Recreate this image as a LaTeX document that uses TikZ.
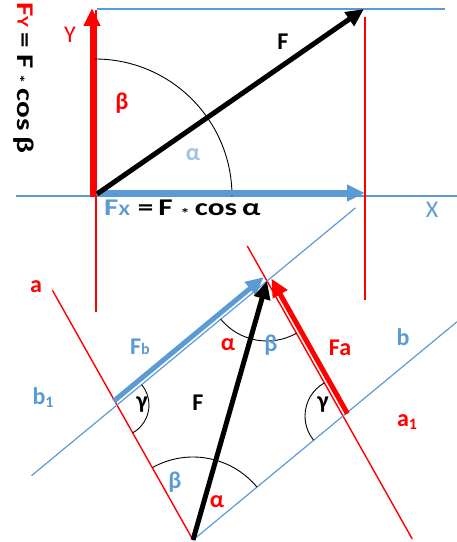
\documentclass[tikz,border=0pt]{standalone}
\usepackage{fontspec}
\setmainfont{Carlito}
\usepackage{graphicx}
\usepackage{tikz}
\usetikzlibrary{arrows.meta,calc}
\definecolor{compblue}{HTML}{5B9BD5}
\definecolor{anglblue}{HTML}{9DC3E6}
\definecolor{compred}{HTML}{FF0000}
\newcommand\mult{\raisebox{-3pt}{\fontsize{14}{14}\selectfont *}}
\newcommand\sm[1]{{\fontsize{16}{16}\selectfont #1}}
\newcommand\wide[1]{\scalebox{1.3}[1]{#1}}

\begin{document}
\begin{tikzpicture}[x=1pt, y=1pt, >={Triangle[length=18pt,width=16pt]},
  axisline/.style={compblue, line width=1.2pt},
  projline/.style={compred, line width=1.4pt},
  force/.style={->, line width=5pt},
  anglearc/.style={black, line width=0.9pt},
  lbl/.style={font=\fontsize{24}{24}\selectfont\bfseries, inner sep=0pt},
  axislbl/.style={font=\fontsize{24}{24}\selectfont, inner sep=0pt}]
  \useasboundingbox (0,0) rectangle (457,542);

  % components in x/y
  \coordinate (O) at (95,346);
  \coordinate (Xstart) at (16,346);
  \coordinate (Xend) at (457,346);
  \coordinate (topL) at (97,533);
  \coordinate (topR) at (445,533);
  \coordinate (projYtop) at (96,532);
  \coordinate (projYbot) at (96,230);
  \coordinate (projXtop) at (365,525);
  \coordinate (projXbot) at (365,242);
  \coordinate (FyS) at (92,345);
  \coordinate (FyE) at (92,534);
  \coordinate (FxS) at (96,349);
  \coordinate (FxE) at (365,349);
  \coordinate (FS) at (97,348);
  \coordinate (FE) at (364,533);

  \draw[axisline] (Xstart) -- (Xend);
  \draw[axisline] (topL) -- (topR);
  \draw[projline] (projYtop) -- (projYbot);
  \draw[projline] (projXtop) -- (projXbot);
  \draw[anglearc] (O) ++(137,0) arc[start angle=0, end angle=90, radius=137];
  \draw[force, compred] (FyS) -- (FyE);
  \draw[force, compblue] (FxS) -- (FxE);
  \draw[force, black] (FS) -- (FE);

  \node[axislbl, compred] (ylbl) at (70,507) {Y};
  \node[axislbl, compblue] (xlbl) at (432,332) {X};
  \node[lbl, compred] (betatop) at (122,439) {β};
  \node[lbl, anglblue] (alphatop) at (193,387) {α};
  \node[lbl] (Ftop) at (283,500) {F};
  \node[lbl, anchor=west] (fxlbl) at (104,333)
    {\wide{\textcolor{compblue}{F\sm{X}}\hspace{6pt}=\hspace{4pt}F\hspace{6pt}\mult\hspace{4pt}cos\hspace{4pt}α}};
  \node[lbl, anchor=west, rotate=-90] (fylbl) at (24,540)
    {\wide{\textcolor{compred}{F\sm{Y}}\hspace{4pt}=\hspace{5pt}F\hspace{4pt}\mult\hspace{4pt}cos\hspace{5pt}β}};

  % parallelogram of forces
  \coordinate (P) at (193,2);
  \coordinate (L) at (117,137);
  \coordinate (R) at (343,126);
  \coordinate (Q) at ($(L)+(R)-(P)$);
  \coordinate (aTop) at ($(P)!1.85!(L)$);
  \coordinate (aoneTop) at ($(R)!1.26!(Q)$);
  \coordinate (aoneBot) at ($(Q)!1.91!(R)$);
  \coordinate (boneBot) at ($(Q)!1.57!(L)$);
  \coordinate (boneTop) at ($(L)!1.59!(Q)$);
  \coordinate (bTop) at ($(P)!1.76!(R)$);

  \draw[projline] (aTop) -- (P);
  \draw[projline] (aoneTop) -- (aoneBot);
  \draw[axisline] (boneBot) -- (boneTop);
  \draw[axisline] (P) -- (bTop);

  \draw[anglearc] ($(P)+(39.6:83)$) arc[start angle=39.6, end angle=119.4, radius=83];
  \draw[anglearc] ($(Q)+(219.6:60)$) arc[start angle=219.6, end angle=299.4, radius=60];
  \draw[anglearc] ($(L)+(-60.6:32)$) arc[start angle=-60.6, end angle=39.6, radius=32];
  \draw[anglearc] ($(R)+(119.4:38)$) arc[start angle=119.4, end angle=219.6, radius=38];

  \draw[force, compblue] ($(L)+(-3.2,3.9)$) -- ($(Q)+(-3.2,3.9)$);
  \draw[force, compred] ($(R)+(4.4,2.4)$) -- ($(Q)+(4.4,2.4)$);
  \draw[force, black] (P) -- (Q);

  \node[lbl, compred] (albl) at (36,255) {a};
  \node[lbl, compblue] (bonelbl) at (43,144) {b\raisebox{-3pt}{\sm{1}}};
  \node[lbl, compblue] (fblbl) at (140,195) {F\sm{b}};
  \node[lbl, compred] (alphaQ) at (228,197) {α};
  \node[lbl, compblue] (betaQ) at (271,197) {β};
  \node[lbl, compred] (falbl) at (340,194) {Fa};
  \node[lbl, compblue] (blbl) at (403,205) {b};
  \node[lbl] (gammaL) at (142,137) {γ};
  \node[lbl] (Flow) at (198,139) {F};
  \node[lbl] (gammaR) at (323,137) {γ};
  \node[lbl, compred] (aonelbl) at (407,120) {a\raisebox{-3pt}{\sm{1}}};
  \node[lbl, compblue] (betaP) at (175,60) {β};
  \node[lbl, compred] (alphaP) at (217,40) {α};
\end{tikzpicture}
\end{document}
